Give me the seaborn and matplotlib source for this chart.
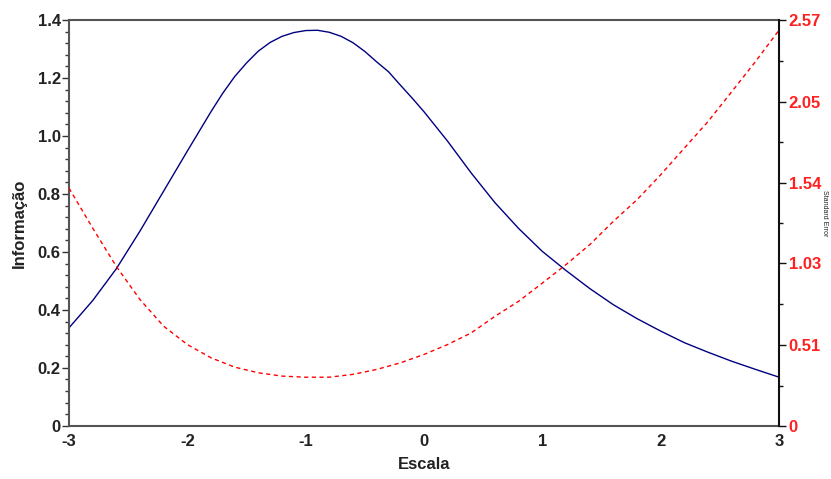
import seaborn as sns
import pandas as pd
import numpy as np
import matplotlib.pyplot as plt
from matplotlib.ticker import MultipleLocator, FixedLocator, FuncFormatter

# scale points (theta) for the information curve
escala_info = [-3.0, -2.8, -2.6, -2.4, -2.2, -2.0, -1.8, -1.7, -1.6, -1.5, -1.4, -1.3, -1.2,
               -1.1, -1.0, -0.9, -0.8, -0.7, -0.6, -0.5, -0.4, -0.3, -0.2, -0.1, 0.0,
               0.2, 0.4, 0.6, 0.8, 1.0, 1.2, 1.4, 1.6, 1.8, 2.0, 2.2, 2.4, 2.6, 2.8, 3.0]
# test information (left axis)
informacao = [0.338, 0.432, 0.542, 0.672, 0.810, 0.948, 1.084, 1.148, 1.205, 1.252, 1.293, 1.323, 1.344,
              1.357, 1.364, 1.365, 1.358, 1.344, 1.322, 1.292, 1.256, 1.222, 1.176, 1.131, 1.084,
              0.982, 0.872, 0.770, 0.681, 0.602, 0.536, 0.474, 0.418, 0.370, 0.327, 0.287, 0.254, 0.223, 0.195, 0.168]

# scale points for the standard error curve
escala_se = [-3.0, -2.8, -2.6, -2.4, -2.2, -2.0, -1.8, -1.6, -1.4, -1.2, -1.0,
             -0.8, -0.6, -0.4, -0.2, 0.0, 0.2, 0.4, 0.6, 0.8, 1.0,
             1.2, 1.4, 1.6, 1.8, 2.0, 2.2, 2.4, 2.6, 2.8, 3.0]
# standard error (right axis)
std_error = [1.506, 1.253, 1.010, 0.800, 0.631, 0.515, 0.431, 0.372, 0.336, 0.315, 0.308,
             0.308, 0.326, 0.357, 0.399, 0.452, 0.515, 0.589, 0.694, 0.789, 0.904,
             1.021, 1.147, 1.295, 1.432, 1.590, 1.759, 1.927, 2.116, 2.306, 2.506]
se_ticks = [0, 0.51, 1.03, 1.54, 2.05, 2.57]

df_info = pd.DataFrame({'Escala': escala_info, 'Informacao': informacao})
df_se = pd.DataFrame({'Escala': escala_se, 'SE': std_error})

sns.set_style("white")
plt.rcParams['font.family'] = ['Liberation Sans Narrow', 'Liberation Sans', 'DejaVu Sans']
plt.rcParams['axes.unicode_minus'] = False

fig, ax = plt.subplots(figsize=(8.31, 4.79), dpi=100)
fig.subplots_adjust(left=0.083, right=0.9374, top=0.958, bottom=0.111)

sns.lineplot(data=df_info, x='Escala', y='Informacao', ax=ax, color='#000080', linewidth=1)
ax.set_xlim(-3, 3)
ax.set_ylim(0, 1.4)
ax.xaxis.set_major_locator(MultipleLocator(1))
ax.xaxis.set_minor_locator(MultipleLocator(0.2))
ax.yaxis.set_major_locator(MultipleLocator(0.2))
ax.yaxis.set_minor_locator(MultipleLocator(0.04))
ax.yaxis.set_major_formatter(FuncFormatter(lambda v, p: '0' if abs(v) < 1e-9 else f'{v:.1f}'))
ax.xaxis.set_major_formatter(FuncFormatter(lambda v, p: f'{v:.0f}'))
ax.set_xlabel('Escala', fontsize=12, fontweight='bold', color='#222222', labelpad=6)
ax.set_ylabel('Informação', fontsize=12, fontweight='bold', color='#222222', labelpad=8)
ax.tick_params(axis='both', which='major', length=5, width=1, direction='out',
               labelsize=12, colors='#333333', pad=1)
ax.tick_params(axis='both', which='minor', length=3, width=1, direction='out', colors='#333333')
ax.tick_params(axis='both', labelcolor='#222222')
for lab in ax.get_xticklabels() + ax.get_yticklabels():
    lab.set_fontweight('bold')
for s in ['left', 'bottom', 'top']:
    ax.spines[s].set_color('#555555')
    ax.spines[s].set_linewidth(1.5)
ax.spines['right'].set_visible(False)

ax2 = ax.twinx()
sns.lineplot(data=df_se, x='Escala', y='SE', ax=ax2, color='#ff0000', linewidth=1, linestyle=(0, (3, 2.5)))
ax2.set_ylim(0, 2.57)
ax2.yaxis.set_major_locator(FixedLocator(se_ticks))
ax2.yaxis.set_minor_locator(FixedLocator([(se_ticks[i] + se_ticks[i + 1]) / 2 for i in range(5)]))
ax2.yaxis.set_major_formatter(FuncFormatter(lambda v, p: '0' if abs(v) < 1e-9 else f'{v:.2f}'))
ax2.set_ylabel('')
fig.text(0.9925, 0.555, 'Standard Error', fontsize=5, rotation=270, ha='center', va='center', color='#222222')
ax2.tick_params(axis='y', which='major', length=5, width=1, direction='out',
                labelsize=12, colors='#111111', labelcolor='#ff2020', pad=2)
ax2.tick_params(axis='y', which='minor', length=3, width=1, direction='out', colors='#111111')
for lab in ax2.get_yticklabels():
    lab.set_fontweight('bold')
for s in ['left', 'bottom', 'top']:
    ax2.spines[s].set_visible(False)
ax2.spines['right'].set_color('#111111')
ax2.spines['right'].set_linewidth(1.5)

fig.savefig('out.png', dpi=100)
